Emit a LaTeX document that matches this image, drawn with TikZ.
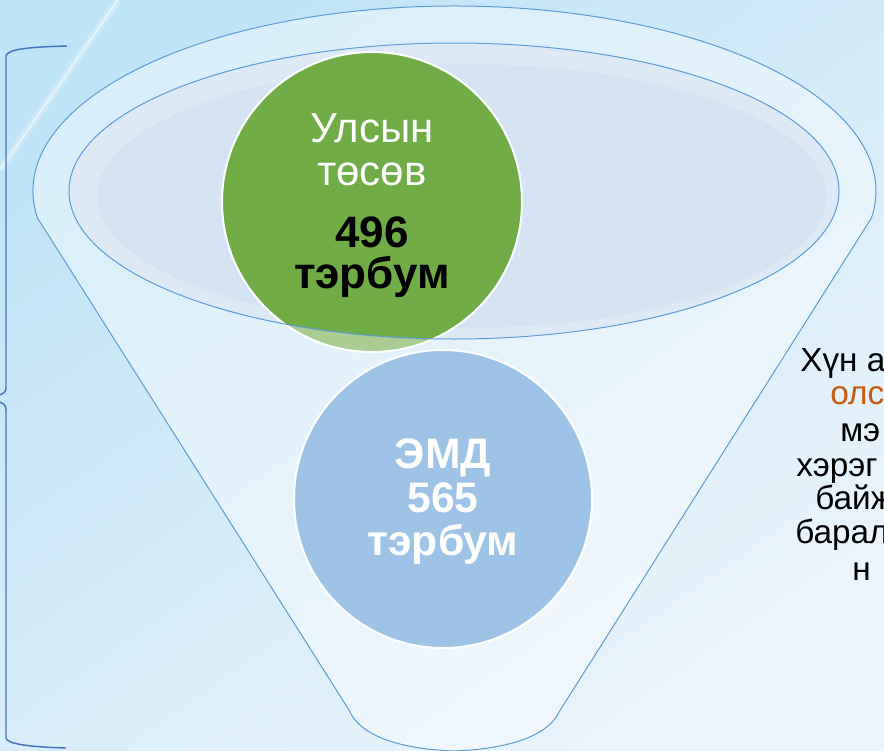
\documentclass[tikz,border=0pt]{standalone}
\usepackage{fontspec}
\setmainfont{Liberation Sans}
\definecolor{edge}{HTML}{5B9BD5}
\definecolor{brace}{HTML}{4472C4}
\definecolor{leafgreen}{HTML}{70AD47}
\definecolor{skyblue}{HTML}{9DC3E6}
\definecolor{rust}{HTML}{C55A11}
\definecolor{bowl}{HTML}{DDEAF6}
\definecolor{bowldeep}{HTML}{D4E4F3}
\definecolor{bgtop}{HTML}{BEE4F7}
\definecolor{bgbottom}{HTML}{EBF4FB}
\tikzset{
  bubble/.style={circle, draw=white, line width=1.5pt, inner sep=0pt},
  lighttext/.style={text=white, font=\fontsize{31.5}{34}\selectfont, anchor=base, inner sep=0pt},
  boldtext/.style={font=\bfseries\fontsize{33}{36}\selectfont, anchor=base, inner sep=0pt},
  sidetext/.style={font=\fontsize{25}{27}\selectfont, anchor=base west, inner sep=0pt},
}
\begin{document}
\begin{tikzpicture}[x=0.75pt, y=-0.75pt]
    \newcommand{\funnel}[1]{
        \path[#1] (37.5,218) arc[start angle=171.6, end angle=368.4, x radius=421.5, y radius=185]
            -- (559,712) .. controls (548,736) and (508,749) .. (454,751)
            .. controls (400,749) and (360,736) .. (349,710) -- cycle
    }
    \useasboundingbox (0,0) rectangle (884,750);
    \clip (0,0) rectangle (884,750);

    % background
    \shade[top color=bgtop, bottom color=bgbottom, shading angle=35] (0,0) rectangle (884,750);
    \draw[white, opacity=0.2, line width=6pt] (118,0) -- (0,170);
    \draw[white, opacity=0.5, line width=1.5pt] (118,0) -- (0,170);

    % braces on the left
    \draw[brace, line width=1.1pt] (67,46) .. controls (30,47) and (7,49) .. (6,56) -- (6,388)
        .. controls (6,392) and (3,394) .. (0,395);
    \draw[brace, line width=1.1pt] (0,402) .. controls (3,403) and (6,405) .. (6,410) -- (6,738)
        .. controls (7,744) and (30,747) .. (66,748);

    % bowl of the funnel
    \fill[bowl] (454,191) ellipse [x radius=385, y radius=148];
    \fill[bowldeep] (462,196) ellipse [x radius=365, y radius=132];

    \node[bubble, fill=leafgreen, minimum size=225pt] (budget) at (372,202) {};

    \funnel{fill=white, opacity=0.4, even odd rule} (454,191) ellipse [x radius=385, y radius=148];
    \funnel{draw=edge, line width=0.75pt};
    \draw[edge, line width=0.75pt] (454,191) ellipse [x radius=385, y radius=148];

    \node[bubble, fill=skyblue, minimum size=223.5pt] (emd) at (443,499) {};

    \node[lighttext] (budgetA) at (372,142) {Улсын};
    \node[lighttext] (budgetB) at (372,185) {төсөв};
    \node[boldtext] (budgetC) at (372,247) {496};
    \node[boldtext] (budgetD) at (372,288) {тэрбум};

    \node[boldtext, text=white, font=\bfseries\fontsize{32}{35}\selectfont] (emdA) at (443,468) {ЭМД};
    \node[boldtext, text=white, font=\bfseries\fontsize{32}{35}\selectfont] (emdB) at (443,512) {565};
    \node[boldtext, text=white, font=\bfseries\fontsize{32}{35}\selectfont] (emdC) at (443,555) {тэрбум};

    % text cut by the right edge, as in the slide
    \node[sidetext] (noteA) at (800,371) {Хүн а};
    \node[sidetext, text=rust] (noteB) at (830,404) {олс};
    \node[sidetext] (noteC) at (840,441) {мэ};
    \node[sidetext] (noteD) at (796,476) {хэрэг};
    \node[sidetext] (noteE) at (815,509) {байж};
    \node[sidetext] (noteF) at (795,543) {барал};
    \node[sidetext] (noteG) at (852,580) {н};
\end{tikzpicture}
\end{document}
